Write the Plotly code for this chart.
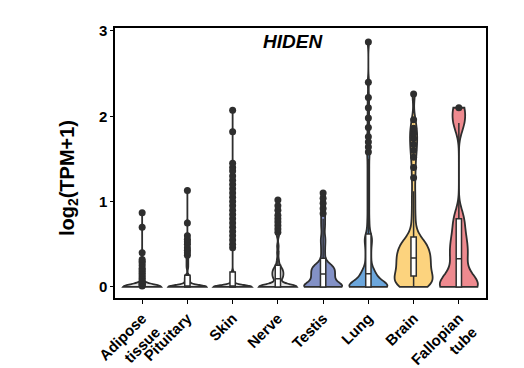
import plotly.graph_objects as go

tissues = ["Adipose<br>tissue", "Pituitary", "Skin", "Nerve", "Testis", "Lung", "Brain", "Fallopian<br>tube"]
colors = ["#e3e3e3", "#e3e3e3", "#e3e3e3", "#e6e6e6", "#8391c6", "#6ba6dc", "#fcd37e", "#ee8a8f"]

# number of samples with zero expression (estimated), and the non-zero samples
adipose_zeros = 150
adipose_nonzero = [0.01, 0.02, 0.03, 0.04, 0.05, 0.06, 0.08, 0.10, 0.12, 0.14, 0.16, 0.18,
                   0.20, 0.22, 0.25, 0.28, 0.30, 0.32, 0.40, 0.70, 0.87]
pituitary_zeros = 34
pituitary_nonzero = [0.01, 0.02, 0.03, 0.04, 0.05, 0.06, 0.07, 0.08, 0.09, 0.10, 0.11, 0.12,
                     0.13, 0.14, 0.22, 0.25, 0.28, 0.31, 0.34, 0.37, 0.40, 0.43, 0.46, 0.50,
                     0.53, 0.56, 0.60, 0.75, 1.13]
skin_zeros = 55
skin_nonzero = [0.01, 0.02, 0.03, 0.04, 0.05, 0.06, 0.07, 0.08, 0.09, 0.10, 0.11, 0.12,
                0.13, 0.14, 0.15, 0.16, 0.17, 0.18,
                0.46, 0.50, 0.55, 0.60, 0.65, 0.70, 0.75, 0.80, 0.85, 0.90, 0.95, 1.00,
                1.05, 1.10, 1.15, 1.20, 1.25, 1.30, 1.36, 1.40, 1.45, 1.82, 2.07]
nerve_zeros = 25
nerve_nonzero = [0.04, 0.07, 0.09, 0.10, 0.11, 0.12, 0.13, 0.14, 0.15, 0.16, 0.17, 0.18,
                 0.19, 0.20, 0.21, 0.22, 0.24, 0.27,
                 0.32, 0.40, 0.48, 0.60, 0.64, 0.68, 0.72, 0.76, 0.80, 0.84, 0.90, 0.95, 1.02]
testis_zeros = 15
testis_nonzero = [0.04, 0.05, 0.06, 0.07, 0.08, 0.09, 0.10, 0.11, 0.12, 0.13, 0.14, 0.15,
                  0.16, 0.17, 0.18, 0.19, 0.20, 0.21, 0.22, 0.23, 0.24, 0.25, 0.26, 0.26,
                  0.32, 0.38, 0.44, 0.50, 0.55, 0.60, 0.68, 0.74, 0.80, 0.86, 0.92, 0.98, 1.04, 1.10]
lung_zeros = 25
lung_nonzero = [0.01, 0.02, 0.03, 0.04, 0.05, 0.06, 0.07, 0.08, 0.09, 0.10, 0.11, 0.12,
                0.13, 0.14, 0.15, 0.16, 0.17, 0.18, 0.19, 0.20,
                0.23, 0.26, 0.29, 0.32, 0.35, 0.38, 0.41, 0.44, 0.47, 0.50, 0.53, 0.55, 0.57, 0.58, 0.59,
                0.65, 0.72, 0.80, 0.90, 1.00, 1.10, 1.20, 1.30, 1.40,
                1.50, 1.58, 1.64, 1.70, 1.76, 1.87, 1.98, 2.10, 2.22, 2.40, 2.87]
brain_zeros = 3
brain_nonzero = [0.01, 0.02, 0.03, 0.04, 0.05, 0.06, 0.07, 0.08, 0.09, 0.10, 0.11, 0.12,
                 0.135, 0.15, 0.165, 0.18, 0.195, 0.21, 0.225, 0.24, 0.255, 0.27, 0.285, 0.30,
                 0.31, 0.32, 0.33,
                 0.345, 0.36, 0.375, 0.39, 0.405, 0.42, 0.435, 0.45, 0.465, 0.48, 0.495, 0.51,
                 0.525, 0.54, 0.55,
                 0.62, 0.72, 0.84, 0.98, 1.12, 1.28, 1.40, 1.52, 1.60, 1.67, 1.74, 1.80,
                 1.86, 1.96, 2.26]
fallopian_zeros = 3
fallopian_nonzero = [0.03, 0.15, 0.33, 0.45, 0.60, 0.80, 1.92, 2.10]

zero_counts = [adipose_zeros, pituitary_zeros, skin_zeros, nerve_zeros,
               testis_zeros, lung_zeros, brain_zeros, fallopian_zeros]
nonzero = [adipose_nonzero, pituitary_nonzero, skin_nonzero, nerve_nonzero,
           testis_nonzero, lung_nonzero, brain_nonzero, fallopian_nonzero]
bandwidths = [0.03, 0.02, 0.02, 0.03, 0.045, 0.06, 0.09, 0.12]
quartile_methods = ["linear"] * 7 + ["exclusive"]

dark = "#2e2e2e"
font_fam = "Liberation Sans, Arial, sans-serif"

fig = go.Figure()
for name, z, nz, col, bw, qm in zip(tissues, zero_counts, nonzero, colors, bandwidths, quartile_methods):
    vals = [0.0] * z + nz
    fig.add_trace(go.Violin(
        x=[name] * len(vals), y=vals, name=name,
        fillcolor=col, opacity=1,
        line=dict(color=dark, width=1.8),
        spanmode="hard", bandwidth=bw, quartilemethod=qm,
        scalemode="width", width=0.84,
        box=dict(visible=True, width=0.14, fillcolor="white", line=dict(color=dark, width=1.5)),
        meanline=dict(visible=False),
        points="outliers", pointpos=0, jitter=0,
        marker=dict(color=dark, size=7, line=dict(width=0)),
        showlegend=False, hoverinfo="skip",
    ))

fig.update_layout(
    width=516, height=360,
    margin=dict(l=107, r=38, t=20, b=70, autoexpand=False),
    paper_bgcolor="white", plot_bgcolor="white",
    violinmode="overlay",
    font=dict(family=font_fam, color="black"),
    xaxis=dict(
        categoryorder="array", categoryarray=tissues,
        range=[-0.6, 7.6], automargin=False,
        tickangle=-45, tickfont=dict(size=15, weight="bold"),
        showline=True, linecolor="black", linewidth=1.5, mirror=True,
        ticks="outside", ticklen=4, tickwidth=1.2, tickcolor="black",
        showgrid=False, zeroline=False,
    ),
    yaxis=dict(
        range=[-0.13, 3.035], automargin=False,
        tickvals=[0, 1, 2, 3], ticktext=["0", "1", "2", "3"],
        tickfont=dict(size=15, weight="bold"),
        showline=True, linecolor="black", linewidth=1.5, mirror=True,
        ticks="outside", ticklen=3, tickwidth=1.2, tickcolor="black",
        showgrid=False, zeroline=False,
    ),
    annotations=[
        dict(text="<b><i>HIDEN</i></b>", xref="paper", yref="paper",
             x=0.48, y=0.95, showarrow=False, font=dict(size=19, color="black"),
             xanchor="center", yanchor="middle"),
        dict(text="<b>log<sub>2</sub>(TPM+1)</b>", xref="paper", yref="paper",
             x=-0.1267, y=0.444, showarrow=False, textangle=-90,
             font=dict(size=20, color="black"), xanchor="center", yanchor="middle"),
    ],
)

fig.write_html("out.html")
